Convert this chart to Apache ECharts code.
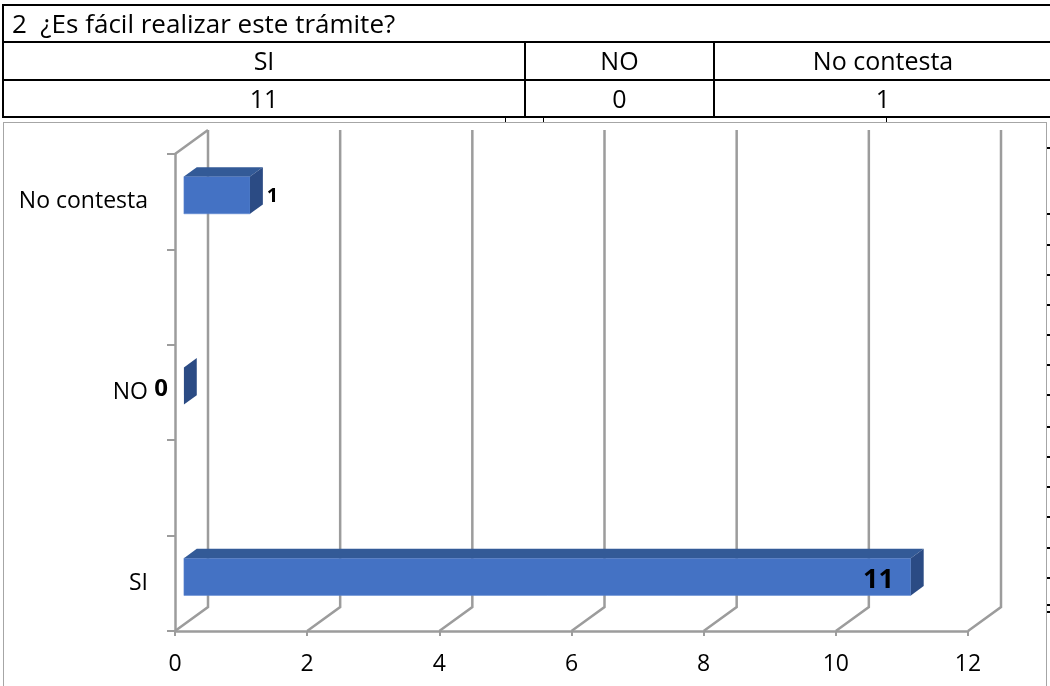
<!DOCTYPE html>
<html>
<head>
<meta charset="utf-8">
<script src="https://cdn.jsdelivr.net/npm/echarts@6/dist/echarts.min.js"></script>
<style>
  html, body { margin:0; padding:0; background:#fff; }
  body { width:1050px; height:686px; overflow:hidden; position:relative; font-family:'Open Sans', sans-serif; }
  #chart { position:absolute; left:0; top:0; width:1050px; height:686px; }
  .ln { position:absolute; background:#000; }
  .cell { position:absolute; color:#000; font-size:25px; line-height:36px; height:36px; white-space:pre; text-align:center; }
  #frame { position:absolute; left:3px; top:122px; width:1042px; height:600px; border:1px solid #a6a6a6; }
  #overlay { position:absolute; left:0; top:0; width:1050px; height:686px; pointer-events:none; }
</style>
</head>
<body>
<div id="frame"></div>
<div id="chart"></div>
<div id="overlay"></div>
<script>
// ---- data ----
const tableTitle = '2  ¿Es fácil realizar este trámite?';
const categories = ['SI', 'NO', 'No contesta'];
const values = [11, 0, 1];
const xMin = 0;
const xMax = 12;
const xStep = 2;

// ---- table (HTML) ----
const ov = document.getElementById('overlay');
function addLine(x, y, w, h) {
  const d = document.createElement('div');
  d.className = 'ln';
  d.style.left = x + 'px'; d.style.top = y + 'px';
  d.style.width = w + 'px'; d.style.height = h + 'px';
  ov.appendChild(d);
}
function addText(txt, x, y, w, align, size) {
  const d = document.createElement('div');
  d.className = 'cell';
  d.textContent = txt;
  d.style.left = x + 'px'; d.style.top = (y - 18) + 'px';
  d.style.width = w + 'px'; d.style.textAlign = align;
  if (size) d.style.fontSize = size + 'px';
  ov.appendChild(d);
}
[5, 42, 80, 117].forEach(y => addLine(2, y - 1, 1060, 2));
addLine(2, 4, 2, 114);
addLine(524, 41, 2, 77);
addLine(713, 41, 2, 77);
[505, 543, 886].forEach(x => addLine(x, 117, 1, 5));
[147, 213, 244, 274, 304, 334, 364, 394, 426, 456, 486, 516, 547, 577, 604, 611].forEach(y => addLine(1047, y, 3, 1.5));

const cols = [[3, 522], [525, 189], [714, 338]];
addText(tableTitle, 12, 23, 700, 'left', 26);
categories.forEach((c, i) => addText(c, cols[i][0], 60, cols[i][1], 'center'));
values.forEach((v, i) => addText(String(v), cols[i][0], 98, cols[i][1], 'center'));

// ---- chart ----
const axisCats = [];
categories.forEach((c, i) => { if (i > 0) axisCats.push(''); axisCats.push(c); });
const barData = values.map((v, i) => [v, i * 2]);
const tickVals = [];
for (let t = xMin; t <= xMax; t += xStep) tickVals.push(t);
const maxVal = Math.max.apply(null, values);

const DX = 33, DY = -24;          // depth of the 3D floor
const FRONT = 0.27, DEPTH = 0.39; // bar front plane & depth as fraction of floor depth
const GRID_COLOR = '#9c9c9c';

const chart = echarts.init(document.getElementById('chart'), null, { renderer: 'canvas' });
chart.setOption({
  animation: false,
  textStyle: { fontFamily: 'Open Sans' },
  grid: { left: 175, top: 154, width: 793, height: 477 },
  xAxis: {
    type: 'value', min: xMin, max: xMax, interval: xStep,
    axisLine: { show: true, lineStyle: { color: GRID_COLOR, width: 2.5 } },
    axisTick: { show: true, length: 5, lineStyle: { color: GRID_COLOR, width: 2 } },
    splitLine: { show: false },
    axisLabel: { fontSize: 23, color: '#000', margin: 22, fontFamily: 'Open Sans' }
  },
  yAxis: {
    type: 'category', data: axisCats,
    axisLine: { show: true, lineStyle: { color: GRID_COLOR, width: 2.5 } },
    axisTick: { show: true, length: 8, interval: 0, lineStyle: { color: GRID_COLOR, width: 2 } },
    axisLabel: { fontSize: 23, color: '#000', margin: 27, interval: 0, fontFamily: 'Open Sans', padding: [6, 0, 0, 0] }
  },
  series: [
    {
      type: 'custom', silent: true, z: 1,
      data: tickVals.map(t => [t, 0]),
      renderItem: function (params, api) {
        const cs = params.coordSys;
        const x = api.coord([api.value(0), 0])[0];
        const bottom = cs.y + cs.height, top = cs.y;
        const st = { stroke: GRID_COLOR, lineWidth: 2.5, fill: null };
        const kids = [
          { type: 'polyline', shape: { points: [[x, bottom], [x + DX, bottom + DY], [x + DX, top + DY]] }, style: st }
        ];
        if (api.value(0) === xMin) {
          kids.push({ type: 'line', shape: { x1: x, y1: top, x2: x + DX, y2: top + DY }, style: st });
        }
        return { type: 'group', children: kids };
      }
    },
    {
      type: 'custom', silent: true, z: 3,
      data: barData,
      renderItem: function (params, api) {
        const v = api.value(0), ci = api.value(1);
        const c0 = api.coord([0, ci]);
        const c1 = api.coord([v, ci]);
        const band = api.size([0, 1])[1];
        const h = band * 0.39;
        const fx = DX * FRONT, fy = DY * FRONT;
        const dx = DX * DEPTH, dy = DY * DEPTH;
        const x0 = c0[0] + fx, x1 = c1[0] + fx;
        const yc = c0[1] + fy;
        const t = yc - h / 2, b = yc + h / 2;
        const kids = [];
        if (x1 > x0) {
          kids.push({ type: 'rect', shape: { x: x0, y: t, width: x1 - x0, height: h }, style: { fill: '#4472C4', stroke: '#5a85d0', lineWidth: 0.5 } });
          kids.push({ type: 'polygon', shape: { points: [[x0, t], [x1, t], [x1 + dx, t + dy], [x0 + dx, t + dy]] }, style: { fill: '#335A97' } });
        }
        kids.push({ type: 'polygon', shape: { points: [[x1, t], [x1 + dx, t + dy], [x1 + dx, b + dy], [x1, b]] }, style: { fill: '#2B4B84' } });
        // data label
        let lx, ly, align, fs;
        if (v === 0) { lx = x0 - 16; ly = yc + 3; align = 'right'; fs = 24; }
        else if (v === maxVal) { lx = x1 - 17; ly = yc + 3.5; align = 'right'; fs = 27; }
        else { lx = x1 + dx + 4; ly = yc + 1.5; align = 'left'; fs = 20; }
        kids.push({ type: 'text', x: lx, y: ly, style: { text: String(v), fill: '#000', fontSize: fs, fontWeight: 'bold', fontFamily: 'Open Sans', align: align, verticalAlign: 'middle' } });
        return { type: 'group', children: kids };
      }
    }
  ]
});
</script>
</body>
</html>
